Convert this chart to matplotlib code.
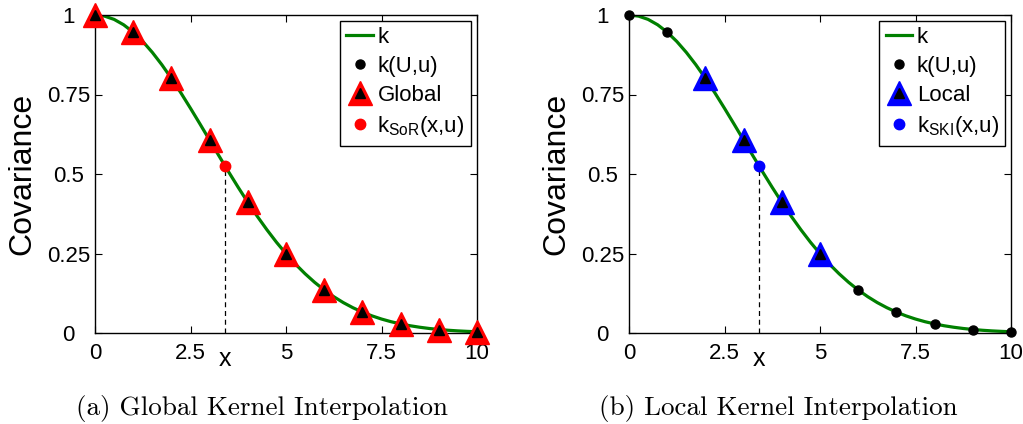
import matplotlib
matplotlib.use("Agg")
import matplotlib.pyplot as plt
from matplotlib.lines import Line2D
from matplotlib.legend_handler import HandlerTuple

plt.rcParams['font.family'] = ['Liberation Sans', 'DejaVu Sans']
plt.rcParams['mathtext.default'] = 'regular'

# kernel curve k(x)
curve_x = [0, 0.25, 0.5, 0.75, 1, 1.25, 1.5, 1.75, 2, 2.25, 2.5, 2.75, 3, 3.25,
           3.5, 3.75, 4, 4.25, 4.5, 4.75, 5, 5.25, 5.5, 5.75, 6, 6.25, 6.5,
           6.75, 7, 7.25, 7.5, 7.75, 8, 8.25, 8.5, 8.75, 9, 9.25, 9.5, 9.75, 10]
curve_k = [1.0, 0.9965, 0.9862, 0.9692, 0.946, 0.9169, 0.8825, 0.8436, 0.8007,
           0.7548, 0.7066, 0.657, 0.6065, 0.5561, 0.5063, 0.4578, 0.4111,
           0.3666, 0.3247, 0.2855, 0.2494, 0.2163, 0.1863, 0.1593, 0.1353,
           0.1142, 0.0956, 0.0796, 0.0657, 0.0539, 0.0439, 0.0355, 0.0286,
           0.0228, 0.0181, 0.0142, 0.0111, 0.0086, 0.0066, 0.0051, 0.0039]

# inducing points U
u_x = [0, 1, 2, 3, 4, 5, 6, 7, 8, 9, 10]
u_k = [1.0, 0.946, 0.801, 0.607, 0.411, 0.249, 0.135, 0.066, 0.029, 0.011, 0.004]

# points used for interpolation
global_idx = [0, 1, 2, 3, 4, 5, 6, 7, 8, 9, 10]
local_idx = [2, 3, 4, 5]

x_star = 3.4
k_star = 0.526

panels = [
    ("Global", global_idx, "red", "SoR", "(a) Global Kernel Interpolation"),
    ("Local", local_idx, "blue", "SKI", "(b) Local Kernel Interpolation"),
]

fig = plt.figure(figsize=(10.23, 4.24), dpi=100)
lefts = [95 / 1023, 629 / 1023]
caption_x = [262 / 1023, 778 / 1023]
ax_w = 382 / 1023
ax_b = 1 - 333 / 424
ax_h = 318 / 424

green = '#008000'

for i, (name, idx, col, sub, caption) in enumerate(panels):
    ax = fig.add_axes((lefts[i], ax_b, ax_w, ax_h))

    ax.plot(curve_x, curve_k, color=green, lw=2.3, zorder=2)
    ax.plot([x_star, x_star], [0, k_star], 'k--', lw=0.9, dashes=(4, 3), zorder=1)
    ax.plot(u_x, u_k, 'o', color='black', ms=6.5, ls='none', zorder=3, clip_on=False)
    tx = [u_x[j] for j in idx]
    ty = [u_k[j] for j in idx]
    ax.plot(tx, ty, '^', color=col, ms=17, ls='none', zorder=4, clip_on=False)
    ax.plot(tx, ty, '^', color='black', ms=7, ls='none', zorder=5, clip_on=False)
    ax.plot([x_star], [k_star], 'o', color=col, ms=7.5, ls='none', zorder=6)

    ax.set_xlim(0, 10)
    ax.set_ylim(0, 1)
    ax.set_xticks([0, 2.5, 5, 7.5, 10])
    ax.set_xticklabels(['0', '2.5', '5', '7.5', '10'])
    ax.set_yticks([0, 0.25, 0.5, 0.75, 1])
    ax.set_yticklabels(['0', '0.25', '0.5', '0.75', '1'])
    ax.tick_params(direction='in', top=True, right=True, length=5, width=0.8,
                   labelsize=16)
    ax.tick_params(axis='x', pad=7)
    ax.tick_params(axis='y', pad=19)
    for lab in ax.get_yticklabels():
        lab.set_horizontalalignment('center')
    for s in ax.spines.values():
        s.set_linewidth(1.0)

    ax.set_ylabel('Covariance', fontsize=23)
    ax.yaxis.set_label_coords(-0.152, 0.5)

    ax.text(x_star, -0.045, 'x', fontsize=18, ha='center', va='top',
            transform=ax.transData)

    h_line = Line2D([], [], color=green, lw=2.3)
    h_dot = Line2D([], [], marker='o', color='black', ms=6.5, ls='none')
    h_tri = (Line2D([], [], marker='^', color=col, ms=17, ls='none'),
             Line2D([], [], marker='^', color='black', ms=7, ls='none'))
    h_pt = Line2D([], [], marker='o', color=col, ms=7.5, ls='none')
    leg = ax.legend([h_line, h_dot, h_tri, h_pt],
                    ['k', 'k(U,u)', name, r'k$_{%s}$(x,u)' % sub],
                    handler_map={tuple: HandlerTuple(ndivide=1)},
                    loc='upper right', fontsize=16, fancybox=False,
                    edgecolor='black', framealpha=1, labelspacing=0.36,
                    handlelength=1.2, handletextpad=0.2, borderpad=0.3,
                    borderaxespad=0.25)
    leg.get_frame().set_linewidth(1.0)

    fig.text(caption_x[i], 1 - 408 / 424, caption, family='cmr10',
             fontsize=19.5, ha='center', va='center')

fig.savefig('out.png', dpi=100)
